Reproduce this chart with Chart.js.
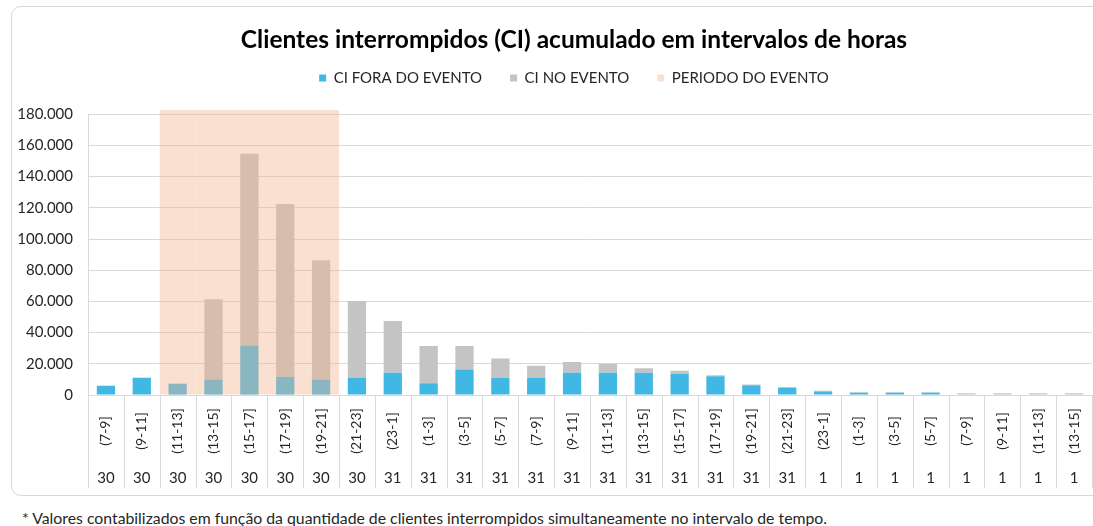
<!DOCTYPE html>
<html>
<head>
<meta charset="utf-8">
<script src="https://cdn.jsdelivr.net/npm/chart.js@4"></script>
<style>
  body { margin: 0; background: #fff; width: 1093px; height: 526px; overflow: hidden; position: relative; font-family: Lato, sans-serif; }
  #frame { position: absolute; left: 11px; top: 6px; width: 1100px; height: 488px; border: 1px solid #d9d9d9; border-radius: 10px; }
  #wrap { position: absolute; left: 0; top: 0; width: 1148px; height: 500px; }
  #nota { position: absolute; left: 22px; top: 508px; font-size: 15.8px; color: #262626; white-space: nowrap; }
</style>
</head>
<body>
<div id="frame"></div>
<div id="wrap"><canvas id="grafico" width="1148" height="500"></canvas></div>
<div id="nota">* Valores contabilizados em função da quantidade de clientes interrompidos simultaneamente no intervalo de tempo.</div>
<script>
// categorias (intervalo de horas) e dia de cada intervalo
const horas = ['(7-9]', '(9-11]', '(11-13]', '(13-15]', '(15-17]', '(17-19]', '(19-21]', '(21-23]',
    '(23-1]', '(1-3]', '(3-5]', '(5-7]', '(7-9]', '(9-11]', '(11-13]', '(13-15]', '(15-17]', '(17-19]', '(19-21]', '(21-23]',
    '(23-1]', '(1-3]', '(3-5]', '(5-7]', '(7-9]', '(9-11]', '(11-13]', '(13-15]'];
const dias = ['30', '30', '30', '30', '30', '30', '30', '30',
    '31', '31', '31', '31', '31', '31', '31', '31', '31', '31', '31', '31',
    '1', '1', '1', '1', '1', '1', '1', '1'];

// valores
const ciForaEvento = [6000, 11000, 7000, 10000, 31800, 11700, 10000, 10900,
    14200, 7600, 16400, 10900, 10900, 14200, 14200, 14200, 13400, 12000, 6200, 4500,
    2300, 1400, 1400, 1400, 300, 300, 300, 300];
const ciNoEvento = [0, 0, 300, 51400, 122800, 110700, 76400, 49300,
    33200, 23800, 15000, 12500, 7800, 6900, 5900, 3000, 2100, 600, 600, 700,
    400, 400, 400, 400, 900, 900, 900, 900];
const periodoEvento = [null, null, 182700, 182700, 182700, 182700, 182700, null,
    null, null, null, null, null, null, null, null, null, null, null, null,
    null, null, null, null, null, null, null, null];

const yTicks = [0, 20000, 40000, 60000, 80000, 100000, 120000, 140000, 160000, 180000];

function formatarMilhar(v) {
    return String(v).replace(/\B(?=(\d{3})+(?!\d))/g, '.');
}

// rotulos do eixo x em dois niveis + linhas separadoras
const eixoDuplo = {
    id: 'eixoDuplo',
    afterDraw(chart) {
        const ctx = chart.ctx;
        const xs = chart.scales.x;
        const base = chart.chartArea.bottom;
        const meio = (xs.getPixelForValue(1) - xs.getPixelForValue(0)) / 2;
        ctx.save();
        ctx.strokeStyle = '#d9d9d9';
        ctx.lineWidth = 1;
        for (let i = 0; i <= horas.length; i++) {
            const x = Math.round(xs.getPixelForValue(i) - meio) + 0.5;
            ctx.beginPath();
            ctx.moveTo(x, base);
            ctx.lineTo(x, 488);
            ctx.stroke();
        }
        ctx.fillStyle = '#262626';
        ctx.textAlign = 'center';
        ctx.textBaseline = 'middle';
        horas.forEach((h, i) => {
            const x = xs.getPixelForValue(i);
            ctx.save();
            ctx.translate(x, 431);
            ctx.rotate(-Math.PI / 2);
            ctx.font = '14px Lato';
            ctx.fillText(h, 0, 0);
            ctx.restore();
            ctx.font = '15px Lato';
            ctx.fillText(dias[i], x, 478);
        });
        ctx.restore();
    }
};

new Chart(document.getElementById('grafico'), {
    type: 'bar',
    data: {
        labels: horas,
        datasets: [{
            label: 'CI FORA DO EVENTO',
            data: ciForaEvento,
            backgroundColor: '#41b8e4',
            xAxisID: 'x',
            yAxisID: 'y',
            stack: 'ci',
            grouped: false,
            categoryPercentage: 1,
            barPercentage: 0.51
        }, {
            label: 'CI NO EVENTO',
            data: ciNoEvento,
            backgroundColor: '#c4c4c4',
            xAxisID: 'x',
            yAxisID: 'y',
            stack: 'ci',
            grouped: false,
            categoryPercentage: 1,
            barPercentage: 0.51
        }, {
            label: 'PERIODO DO EVENTO',
            data: periodoEvento,
            backgroundColor: 'rgba(240, 179, 140, 0.41)',
            xAxisID: 'x',
            yAxisID: 'y',
            stack: 'ev',
            grouped: false,
            categoryPercentage: 1,
            barPercentage: 1,
            inflateAmount: 0,
            clip: false,
            order: -1
        }]
    },
    options: {
        responsive: false,
        animation: false,
        layout: { padding: { top: 8, right: 0, bottom: 97, left: 0 } },
        plugins: {
            title: {
                display: true,
                text: 'Clientes interrompidos (CI) acumulado em intervalos de horas',
                color: '#000',
                font: { family: 'Lato', size: 24.5, weight: 'bold' },
                padding: { top: 17.3, bottom: -12.2 }
            },
            legend: {
                labels: {
                    boxWidth: 7,
                    boxHeight: 7,
                    padding: 28,
                    color: '#262626',
                    font: { family: 'Lato', size: 15 },
                    sort: (a, b) => a.datasetIndex - b.datasetIndex
                }
            },
            tooltip: { enabled: false }
        },
        scales: {
            x: {
                grid: { display: false },
                border: { color: '#d9d9d9' },
                ticks: { display: false }
            },
            y: {
                stacked: true,
                min: 0,
                max: 180000,
                afterFit(scale) { scale.width = 88; },
                afterBuildTicks(scale) { scale.ticks = yTicks.map(v => ({ value: v })); },
                grid: { color: '#d9d9d9', drawTicks: false },
                border: { display: true, color: '#d9d9d9' },
                ticks: {
                    padding: 15,
                    color: '#262626',
                    font: { family: 'Lato', size: 15 },
                    callback: v => formatarMilhar(v)
                }
            },
            // eixos vazios so para dar espaco (entre legenda e grafico, e a direita)
            espaco: {
                type: 'category',
                position: 'top',
                grid: { display: false },
                border: { display: false },
                ticks: { display: false },
                afterFit(scale) { scale.height = 18.7; }
            },
            espacoDir: {
                type: 'linear',
                position: 'right',
                grid: { display: false },
                border: { display: false },
                ticks: { display: false },
                afterFit(scale) { scale.width = 56; }
            }
        }
    },
    plugins: [eixoDuplo]
});
</script>
</body>
</html>
